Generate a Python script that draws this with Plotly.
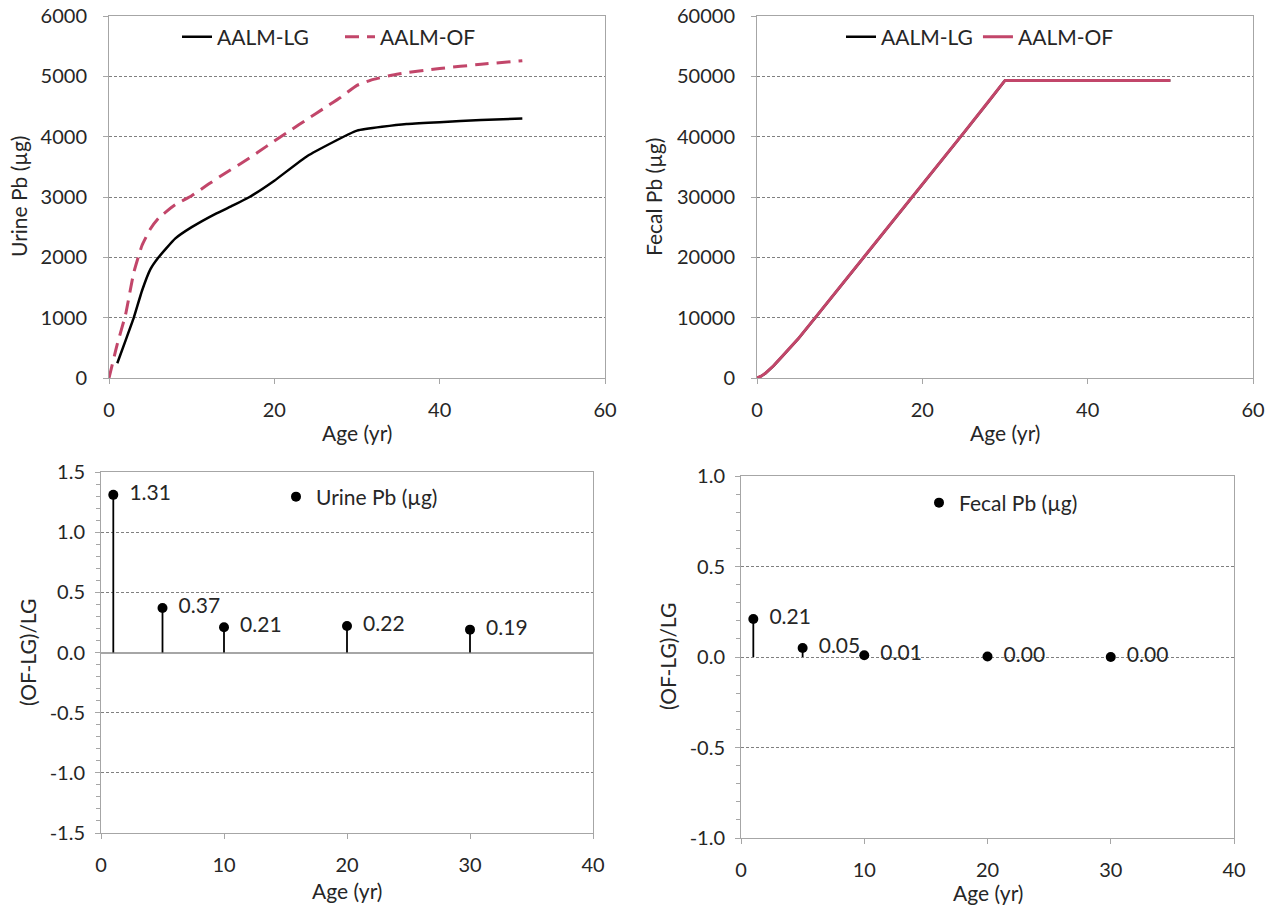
import plotly.graph_objects as go

# ---------------- data ----------------
urine_lg_age = [1, 2, 3, 4, 5, 6, 8, 10, 13, 15, 17, 20, 24, 30, 36, 40, 45, 50]
urine_lg_val = [245, 620, 1000, 1450, 1800, 2000, 2310, 2500, 2730, 2860, 3000, 3270, 3680, 4100,
                4210, 4240, 4275, 4300]
urine_of_age = [0, 1, 2, 3, 4, 5, 6, 8, 10, 12, 14, 16, 18, 20, 22, 24, 26, 28, 30, 32, 35, 40, 45, 50]
urine_of_val = [0, 560, 1050, 1750, 2200, 2470, 2650, 2870, 3020, 3210, 3390, 3560, 3740, 3930, 4110,
                4290, 4470, 4650, 4850, 4950, 5040, 5130, 5200, 5260]

fecal_age = [0, 0.5, 1, 1.5, 2, 3, 4, 5, 7, 10, 13, 16, 19, 22, 25, 28, 30, 35, 40, 45, 50]
fecal_lg_val = [0, 300, 750, 1350, 2000, 3500, 5000, 6500, 9900, 15000, 20100, 25200, 30300, 35500,
                40600, 45800, 49300, 49300, 49300, 49300, 49300]
fecal_of_val = [0, 310, 770, 1370, 2030, 3530, 5030, 6530, 9930, 15030, 20130, 25230, 30330, 35530,
                40630, 45830, 49330, 49330, 49330, 49330, 49330]

ratio_age = [1, 5, 10, 20, 30]
urine_ratio = [1.31, 0.37, 0.21, 0.22, 0.19]
urine_ratio_lbl = ["1.31", "0.37", "0.21", "0.22", "0.19"]
fecal_ratio = [0.21, 0.05, 0.01, 0.003, 0.0]
fecal_ratio_lbl = ["0.21", "0.05", "0.01", "0.00", "0.00"]

urine_ratio_ticks = [-1.5, -1.0, -0.5, 0.0, 0.5, 1.0, 1.5]
urine_ratio_ticktext = ["-1.5", "-1.0", "-0.5", "0.0", "0.5", "1.0", "1.5"]
fecal_ratio_ticks = [-1.0, -0.5, 0.0, 0.5, 1.0]
fecal_ratio_ticktext = ["-1.0", "-0.5", "0.0", "0.5", "1.0"]

# ---------------- style ----------------
FONT = "Lato"
TXT = "#262626"
AX = "#a6a6a6"
GRID = "#808080"
PINK = "#c2466a"
FS_TICK = 20
FS = 21
PAD = "\u2006 "

fig = go.Figure()

# Top-left: urine
fig.add_trace(go.Scatter(x=urine_lg_age, y=urine_lg_val, mode="lines", name="AALM-LG",
                         line=dict(color="black", width=2.5, shape="spline", smoothing=0.4),
                         xaxis="x", yaxis="y", legend="legend"))
fig.add_trace(go.Scatter(x=urine_of_age, y=urine_of_val, mode="lines", name="AALM-OF",
                         line=dict(color=PINK, width=3, dash="14px,8px", shape="spline", smoothing=0.4),
                         xaxis="x", yaxis="y", legend="legend"))

# Top-right: fecal
fig.add_trace(go.Scatter(x=fecal_age, y=fecal_lg_val, mode="lines", name="AALM-LG",
                         line=dict(color="black", width=2.5), xaxis="x2", yaxis="y2", legend="legend2"))
fig.add_trace(go.Scatter(x=fecal_age, y=fecal_of_val, mode="lines", name="AALM-OF",
                         line=dict(color=PINK, width=3), xaxis="x2", yaxis="y2", legend="legend2"))

# Bottom-left: urine ratio (stems via one-sided error bars)
fig.add_trace(go.Scatter(x=ratio_age, y=urine_ratio, mode="markers+text", name="Urine Pb (µg)",
                         text=[PAD + t for t in urine_ratio_lbl], textposition="middle right",
                         textfont=dict(family=FONT, size=FS, color=TXT),
                         marker=dict(color="black", size=10),
                         error_y=dict(type="data", symmetric=False, array=[0] * len(urine_ratio),
                                      arrayminus=urine_ratio, width=0, thickness=1.8, color="black"),
                         xaxis="x3", yaxis="y3", legend="legend3"))

# Bottom-right: fecal ratio
fig.add_trace(go.Scatter(x=ratio_age, y=fecal_ratio, mode="markers+text", name="Fecal Pb (µg)",
                         text=[PAD + t for t in fecal_ratio_lbl], textposition="middle right",
                         textfont=dict(family=FONT, size=FS, color=TXT),
                         marker=dict(color="black", size=10),
                         error_y=dict(type="data", symmetric=False, array=[0] * len(fecal_ratio),
                                      arrayminus=fecal_ratio, width=0, thickness=1.8, color="black"),
                         xaxis="x4", yaxis="y4", legend="legend4"))

W, H = 1278, 909


def px_x(a, b):
    return [a / W, b / W]


def px_y(top, bottom):
    return [(H - bottom) / H, (H - top) / H]


tickfont = dict(family=FONT, size=FS_TICK, color=TXT)
base = dict(showline=True, linecolor=AX, linewidth=1, mirror=True, ticks="outside", ticklen=5,
            tickcolor=AX, tickfont=tickfont, zeroline=False, automargin=False, fixedrange=True)
xbase = dict(base, showgrid=False, ticklabelstandoff=9)
ybase = dict(base, showgrid=True, gridcolor=GRID, gridwidth=1, griddash="3px,2px")
minor = dict(dtick=0.1, ticks="outside", ticklen=4, tickcolor=AX, showgrid=False)

legfont = dict(family=FONT, size=FS, color=TXT)
fig.update_layout(
    width=W, height=H,
    margin=dict(l=0, r=0, t=0, b=0),
    paper_bgcolor="white", plot_bgcolor="white",
    font=dict(family=FONT, size=FS, color=TXT),
    xaxis=dict(xbase, domain=px_x(109, 605), range=[0, 60], dtick=20, anchor="y"),
    yaxis=dict(ybase, domain=px_y(16, 378), range=[0, 6000], dtick=1000, tickformat="d", anchor="x",
               ticklabelstandoff=12),
    xaxis2=dict(xbase, domain=px_x(757, 1253), range=[0, 60], dtick=20, anchor="y2"),
    yaxis2=dict(ybase, domain=px_y(16, 378), range=[0, 60000], dtick=10000, tickformat="d", anchor="x2",
                ticklabelstandoff=12),
    xaxis3=dict(xbase, domain=px_x(101, 593), range=[0, 40], dtick=10, anchor="y3"),
    yaxis3=dict(ybase, domain=px_y(472, 833), range=[-1.5, 1.5], tickvals=urine_ratio_ticks,
                ticktext=urine_ratio_ticktext, anchor="x3", zeroline=True, zerolinecolor=AX,
                zerolinewidth=1.5, minor=minor, ticklabelstandoff=6),
    xaxis4=dict(xbase, domain=px_x(741, 1234), range=[0, 40], dtick=10, anchor="y4"),
    yaxis4=dict(ybase, domain=px_y(476, 838), range=[-1.0, 1.0], tickvals=fecal_ratio_ticks,
                ticktext=fecal_ratio_ticktext, anchor="x4", minor=minor, ticklabelstandoff=6),
    legend=dict(orientation="h", x=340 / W, xanchor="center", y=(H - 37) / H, yanchor="middle",
                bgcolor="rgba(0,0,0,0)", font=legfont, entrywidth=118),
    legend2=dict(orientation="h", x=980 / W, xanchor="center", y=(H - 37) / H, yanchor="middle",
                 bgcolor="rgba(0,0,0,0)", font=legfont),
    legend3=dict(x=276 / W, xanchor="left", y=(H - 497) / H, yanchor="middle",
                 bgcolor="rgba(0,0,0,0)", font=legfont),
    legend4=dict(x=919 / W, xanchor="left", y=(H - 503) / H, yanchor="middle",
                 bgcolor="rgba(0,0,0,0)", font=legfont),
)

ann_font = dict(family=FONT, size=FS, color=TXT)
titles = [
    ("Age (yr)", 357, 432, 0),
    ("Age (yr)", 1005, 432, 0),
    ("Age (yr)", 347, 890, 0),
    ("Age (yr)", 988, 892, 0),
    ("Urine Pb (µg)", 18, 197, -90),
    ("Fecal Pb (µg)", 653, 197, -90),
    ("(OF-LG)/LG", 27, 653, -90),
    ("(OF-LG)/LG", 667, 657, -90),
]
for txt, x, y, ang in titles:
    fig.add_annotation(text=txt, x=x / W, y=(H - y) / H, xref="paper", yref="paper",
                       showarrow=False, textangle=ang, font=ann_font, xanchor="center", yanchor="middle")

fig.write_html("out.html")
